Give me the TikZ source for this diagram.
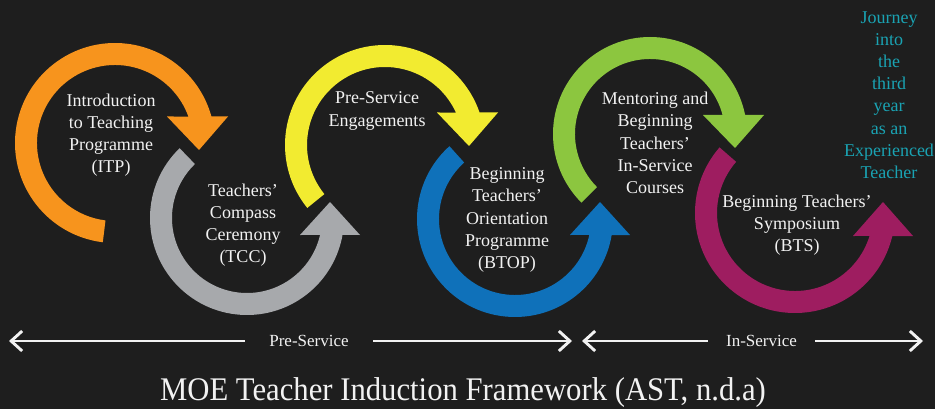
\documentclass[tikz,border=0pt]{standalone}
\usepackage{fontspec}
\setmainfont{Liberation Serif}
\usetikzlibrary{arrows.meta,calc}
\definecolor{bg}{HTML}{1E1E1E}
\definecolor{txt}{HTML}{F2F2F2}
\definecolor{orangeA}{HTML}{F7941D}
\definecolor{grayA}{HTML}{A7A9AC}
\definecolor{yellowA}{HTML}{F2EB30}
\definecolor{blueA}{HTML}{0F71BA}
\definecolor{greenA}{HTML}{8CC63F}
\definecolor{magA}{HTML}{9E1D60}
\definecolor{cyanT}{HTML}{1AA3B3}
\begin{document}
\begin{tikzpicture}[x=1pt,y=-1pt,
  lbl/.style={text=txt, align=center, font=\fontsize{18}{22.2}\selectfont, inner sep=0pt},
  phase/.style={text=txt, fill=bg, font=\fontsize{17}{20}\selectfont, inner sep=0pt, minimum height=14pt},
  barrow/.style={draw=txt, line width=2.9pt, {Straight Barb[length=11pt,width=20pt]}-{Straight Barb[length=11pt,width=20pt]}}]
\fill[bg] (0,0) rectangle (935,409);
\useasboundingbox (0,0) rectangle (935,409);
% orange
\fill[orangeA] ($(115,143)+(97:100)$) arc[start angle=97,end angle=344.63,radius=100]
  -- (228,116.5) -- (199,150) -- (167,116.5) -- ($(115,143)+(340.14:78)$)
  arc[start angle=340.14,end angle=97,radius=78] -- cycle;
% yellow
\fill[yellowA] ($(385,145)+(141:100)$) arc[start angle=141,end angle=341.03,radius=100]
  -- (498,112.5) -- (469,146) -- (437,112.5) -- ($(385,145)+(335.38:78)$)
  arc[start angle=335.38,end angle=141,radius=78] -- cycle;
% green
\fill[greenA] ($(650,134)+(135:97)$) arc[start angle=135,end angle=348.7,radius=97]
  -- (764,115) -- (735,148) -- (703,115) -- ($(650,134)+(345.32:75)$)
  arc[start angle=345.32,end angle=135,radius=75] -- cycle;
% gray
\fill[grayA] ($(247,218)+(226:97)$) arc[start angle=226,end angle=10.09,radius=97]
  -- (360,235) -- (330,202) -- (300,235) -- ($(247,218)+(13.1:75)$)
  arc[start angle=13.1,end angle=226,radius=75] -- cycle;
% blue
\fill[blueA] ($(515,219)+(228:98)$) arc[start angle=228,end angle=9.4,radius=98]
  -- (630,235) -- (600,202) -- (570,235) -- ($(515,219)+(12.15:76)$)
  arc[start angle=12.15,end angle=228,radius=76] -- cycle;
% magenta
\fill[magA] ($(795,213)+(221:100)$) arc[start angle=221,end angle=13.3,radius=100]
  -- (913,236) -- (883,202) -- (853,236) -- ($(795,213)+(17.15:78)$)
  arc[start angle=17.15,end angle=221,radius=78] -- cycle;
% labels
\node[lbl] (itp) at (111,135) {Introduction\\to Teaching\\Programme\\(ITP)};
\node[lbl] (tcc) at (243,225) {Teachers’\\Compass\\Ceremony\\(TCC)};
\node[lbl] (pse) at (377,111) {Pre-Service\\Engagements};
\node[lbl] (btop) at (507,220) {Beginning\\Teachers’\\Orientation\\Programme\\(BTOP)};
\node[lbl] (mbt) at (655,143) {Mentoring and\\Beginning\\Teachers’\\In-Service\\Courses};
\node[lbl] (bts) at (797,225) {Beginning Teachers’\\Symposium\\(BTS)};
\node[lbl,text=cyanT] (jny) at (889,95) {Journey\\into\\the\\third\\year\\as an\\Experienced\\Teacher};
% phases
\coordinate (psL) at (9,341);
\coordinate (psR) at (572,341);
\draw[barrow] (psL) -- (psR);
\node[phase, minimum width=128pt] (ps) at (309,341) {Pre-Service};
\coordinate (isL) at (582,341);
\coordinate (isR) at (923,341);
\draw[barrow] (isL) -- (isR);
\node[phase, minimum width=107pt] (is) at (761.5,341) {In-Service};
% title
\node[text=txt, inner sep=0pt, anchor=base] (title) at (463,400)
  {\scalebox{0.93}[1]{\fontsize{33}{36}\selectfont MOE Teacher Induction Framework (AST, n.d.a)}};
\end{tikzpicture}
\end{document}
